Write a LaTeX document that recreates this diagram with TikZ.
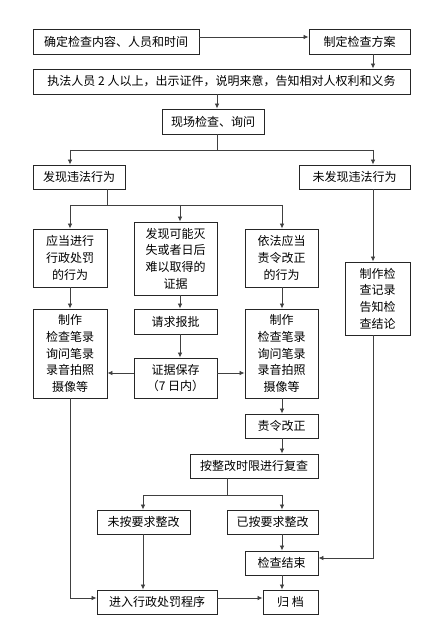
\documentclass[tikz,border=0pt]{standalone}
\usepackage{fontspec}
\setmainfont{Noto Sans CJK SC}
\usetikzlibrary{arrows.meta}
\begin{document}
\begin{tikzpicture}[x=1pt,y=-1pt,
  box/.style={draw=black!85,line width=0.9pt,fill=white,inner sep=0pt,align=center,
    font=\fontsize{12pt}{16.7pt}\selectfont},
  ln/.style={draw=black!75,line width=0.8pt},
  arr/.style={ln,-{Latex[length=5pt,width=4.5pt]}}]
\useasboundingbox[fill=white] (0,0) rectangle (447,636);
\newcommand{\bx}[6]{\node[box,minimum width=#4pt,minimum height=#5pt] (#1) at (#2,#3) {#6};}
\bx{b1}{116}{41.5}{166}{25}{确定检查内容、人员和时间}
\bx{b2}{359.5}{41.5}{101}{25}{制定检查方案}
\bx{b3}{221.5}{81.5}{377}{25}{执法人员 2 人以上，出示证件，说明来意，告知相对人权利和义务}
\bx{b4}{213}{121.5}{102}{25}{现场检查、询问}
\bx{b5}{79}{177}{92}{24}{发现违法行为}
\bx{b6}{354.5}{177}{111}{24}{未发现违法行为}
\bx{b7}{70}{258}{74}{58}{应当进行\\行政处罚\\的行为}
\bx{b8}{175.5}{258.5}{83}{73}{发现可能灭\\失或者日后\\难以取得的\\证据}
\bx{b9}{281.5}{258}{73}{58}{依法应当\\责令改正\\的行为}
\bx{b10}{377.5}{298.5}{65}{73}{制作检\\查记录\\告知检\\查结论}
\bx{b11}{70}{353.5}{74}{89}{制作\\检查笔录\\询问笔录\\录音拍照\\摄像等}
\bx{b12}{175.5}{321.5}{83}{25}{请求报批}
\bx{b13}{281.5}{353.5}{73}{89}{制作\\检查笔录\\询问笔录\\录音拍照\\摄像等}
\bx{b14}{175.5}{378}{83}{40}{证据保存\\（7 日内）}
\bx{b15}{281.5}{426}{73}{24}{责令改正}
\bx{b16}{254}{466}{128}{24}{按整改时限进行复查}
\bx{b17}{143.5}{522}{93}{24}{未按要求整改}
\bx{b18}{272.5}{522}{91}{24}{已按要求整改}
\bx{b19}{281.5}{563}{73}{24}{检查结束}
\bx{b20}{157}{602}{120}{24}{进入行政处罚程序}
\bx{b21}{290.5}{602}{55}{24}{归 档}
% junction coordinates
\coordinate (c0) at (0,37);
\coordinate (j1) at (217,150);
\coordinate (j1L) at (70,150);
\coordinate (j1R) at (373,150);
\coordinate (j2) at (107,205);
\coordinate (j2L) at (70,205);
\coordinate (j2M) at (180,205);
\coordinate (j2R) at (282,205);
\coordinate (j3) at (227,495);
\coordinate (j3L) at (143,495);
\coordinate (j3R) at (282,495);
\coordinate (c1) at (70,598);
\coordinate (c2) at (373,558);
\coordinate (c3) at (0,373);
% connectors
\draw[arr] (b1.east |- c0) -- (b2.west |- c0);
\draw[arr] (b2.south -| j1R) -- (b3.north -| j1R);
\draw[arr] (b3.south -| j1) -- (b4.north -| j1);
\draw[ln] (b4.south -| j1) -- (j1);
\draw[ln] (j1L) -- (j1R);
\draw[arr] (j1L) -- (b5.north -| j1L);
\draw[arr] (j1R) -- (b6.north -| j1R);
\draw[ln] (b5.south -| j2) -- (j2);
\draw[ln] (j2L) -- (j2R);
\draw[arr] (j2L) -- (b7.north -| j2L);
\draw[arr] (j2M) -- (b8.north -| j2M);
\draw[arr] (j2R) -- (b9.north -| j2R);
\draw[arr] (b6.south -| j1R) -- (b10.north -| j1R);
\draw[arr] (b7.south -| j2L) -- (b11.north -| j2L);
\draw[arr] (b8.south -| j2M) -- (b12.north -| j2M);
\draw[arr] (b9.south -| j2R) -- (b13.north -| j2R);
\draw[arr] (b12.south -| j2M) -- (b14.north -| j2M);
\draw[arr] (b14.west |- c3) -- (b11.east |- c3);
\draw[arr] (b14.east |- c3) -- (b13.west |- c3);
\draw[arr] (b13.south -| j2R) -- (b15.north -| j2R);
\draw[arr] (b15.south -| j2R) -- (b16.north -| j2R);
\draw[ln] (b16.south -| j3) -- (j3);
\draw[ln] (j3L) -- (j3R);
\draw[arr] (j3L) -- (b17.north -| j3L);
\draw[arr] (j3R) -- (b18.north -| j3R);
\draw[arr] (b18.south -| j3R) -- (b19.north -| j3R);
\draw[arr] (b19.south -| j3R) -- (b21.north -| j3R);
\draw[arr] (b17.south -| j3L) -- (b20.north -| j3L);
\draw[arr] (b11.south -| c1) -- (c1) -- (b20.west |- c1);
\draw[arr] (b20.east |- c1) -- (b21.west |- c1);
\draw[arr] (b10.south -| c2) -- (c2) -- (b19.east |- c2);
\end{tikzpicture}
\end{document}
